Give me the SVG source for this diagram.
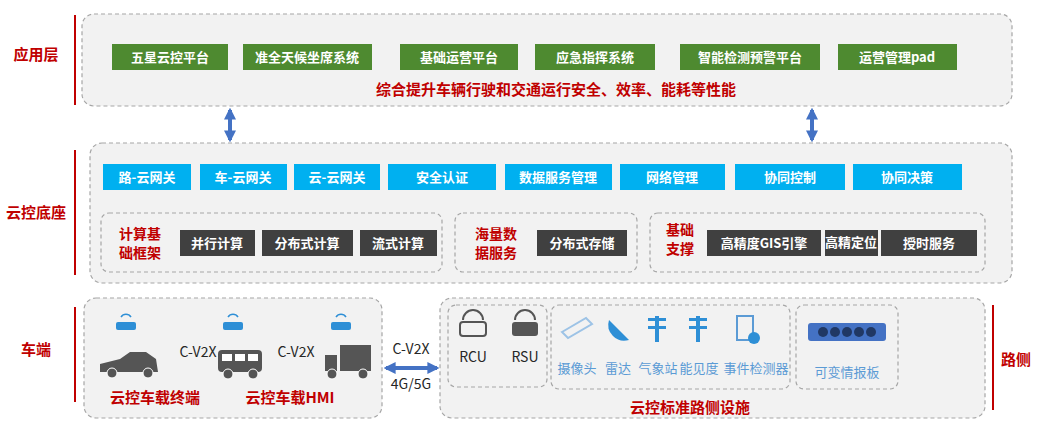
<svg xmlns="http://www.w3.org/2000/svg" width="1039" height="437" viewBox="0 0 1039 437">
<defs>
<style>
text{font-family:"Noto Sans CJK SC","Liberation Sans",sans-serif}
.box{fill:#f2f2f2;stroke:#a6a6a6;stroke-dasharray:4 3;stroke-width:1.2}
.g{fill:#4e8a30}.b{fill:#00b0f0}.d{fill:#404040}
.wt{fill:#fff;font-size:13px;font-weight:bold;text-anchor:middle}
.rt{fill:#c00000;font-weight:bold;text-anchor:middle}
.lt{fill:#5b9bd5;font-size:13px;text-anchor:middle}
.kt{fill:#262626;font-size:14px;text-anchor:middle}
.rl{stroke:#c00000;stroke-width:2}
.ic{fill:#2e8fd6}
.dk{fill:#555}
</style>
<marker id="ah" viewBox="0 0 10 10" refX="9" refY="5" markerWidth="5" markerHeight="5" orient="auto-start-reverse"><path d="M0,0L10,5L0,10z" fill="#1f3864"/></marker>
<marker id="bh" viewBox="0 0 10 10" refX="8" refY="5" markerWidth="3" markerHeight="3" orient="auto-start-reverse"><path d="M0,0L10,5L0,10z" fill="#4472c4"/></marker>
</defs>
<g id="labels">
<text x="36" y="60" class="rt" font-size="15">应用层</text><line x1="75" y1="15" x2="75" y2="105" class="rl"/>
<text x="36" y="218" class="rt" font-size="15">云控底座</text><line x1="75" y1="150" x2="75" y2="275" class="rl"/>
<text x="36" y="355" class="rt" font-size="15">车端</text><line x1="75" y1="307" x2="75" y2="402" class="rl"/>
<text x="1016" y="365" class="rt" font-size="15">路侧</text><line x1="993" y1="305" x2="993" y2="410" class="rl"/>
</g>
<g id="app">
<rect x="82" y="14" width="930" height="92" rx="12" class="box"/>
<rect x="112" y="44" width="116" height="26" class="g"/><text x="170" y="62" class="wt">五星云控平台</text>
<rect x="243" y="44" width="129" height="26" class="g"/><text x="307" y="62" class="wt">准全天候坐席系统</text>
<rect x="400" y="44" width="118" height="26" class="g"/><text x="459" y="62" class="wt">基础运营平台</text>
<rect x="535" y="44" width="120" height="26" class="g"/><text x="595" y="62" class="wt">应急指挥系统</text>
<rect x="680" y="44" width="140" height="26" class="g"/><text x="750" y="62" class="wt">智能检测预警平台</text>
<rect x="838" y="44" width="119" height="26" class="g"/><text x="897" y="62" class="wt">运营管理pad</text>
<text x="556" y="95" class="rt" font-size="15">综合提升车辆行驶和交通运行安全、效率、能耗等性能</text>
</g>
<g id="connectors">
<line x1="230" y1="110" x2="230" y2="140" stroke="#4472c4" stroke-width="4" marker-start="url(#bh)" marker-end="url(#bh)"/>
<line x1="812" y1="110" x2="812" y2="140" stroke="#4472c4" stroke-width="4" marker-start="url(#bh)" marker-end="url(#bh)"/>
<line x1="160" y1="372" x2="216" y2="372" stroke="#1f3864" stroke-width="1.5" stroke-dasharray="4 3" marker-start="url(#ah)" marker-end="url(#ah)"/>
<line x1="264" y1="372" x2="323" y2="372" stroke="#1f3864" stroke-width="1.5" stroke-dasharray="4 3" marker-start="url(#ah)" marker-end="url(#ah)"/>
<line x1="386" y1="368" x2="437" y2="368" stroke="#4472c4" stroke-width="4" marker-start="url(#bh)" marker-end="url(#bh)"/>
<text x="411" y="354" class="kt">C-V2X</text><text x="411" y="389" class="kt" font-size="13">4G/5G</text>
</g>
<g id="base">
<rect x="90" y="143" width="922" height="140" rx="12" class="box"/>
<rect x="103" y="164" width="88" height="26" class="b"/><text x="147" y="182" class="wt">路-云网关</text>
<rect x="200" y="164" width="87" height="26" class="b"/><text x="243" y="182" class="wt">车-云网关</text>
<rect x="294" y="164" width="86" height="26" class="b"/><text x="337" y="182" class="wt">云-云网关</text>
<rect x="388" y="164" width="108" height="26" class="b"/><text x="442" y="182" class="wt">安全认证</text>
<rect x="505" y="164" width="107" height="26" class="b"/><text x="558" y="182" class="wt">数据服务管理</text>
<rect x="620" y="164" width="105" height="26" class="b"/><text x="672" y="182" class="wt">网络管理</text>
<rect x="735" y="164" width="110" height="26" class="b"/><text x="790" y="182" class="wt">协同控制</text>
<rect x="853" y="164" width="109" height="26" class="b"/><text x="907" y="182" class="wt">协同决策</text>
<rect x="101" y="213" width="341" height="59" rx="8" class="box"/>
<text x="140" y="239" class="rt" font-size="14">计算基</text><text x="140" y="258" class="rt" font-size="14">础框架</text>
<rect x="180" y="230" width="75" height="26" class="d"/><text x="217" y="248" class="wt">并行计算</text>
<rect x="262" y="230" width="91" height="26" class="d"/><text x="307" y="248" class="wt">分布式计算</text>
<rect x="360" y="230" width="77" height="26" class="d"/><text x="398" y="248" class="wt">流式计算</text>
<rect x="455" y="213" width="182" height="59" rx="8" class="box"/>
<text x="496" y="239" class="rt" font-size="14">海量数</text><text x="496" y="258" class="rt" font-size="14">据服务</text>
<rect x="537" y="230" width="90" height="26" class="d"/><text x="582" y="248" class="wt">分布式存储</text>
<rect x="650" y="213" width="335" height="59" rx="8" class="box"/>
<text x="680" y="235" class="rt" font-size="14">基础</text><text x="680" y="254" class="rt" font-size="14">支撑</text>
<rect x="707" y="230" width="114" height="26" class="d"/><text x="764" y="248" class="wt">高精度GIS引擎</text>
<rect x="825" y="230" width="53" height="26" class="d"/><text x="851" y="247" class="wt" font-size="12">高精定位</text>
<rect x="881" y="230" width="96" height="26" class="d"/><text x="929" y="248" class="wt">授时服务</text>
</g>
<g id="vehicle">
<rect x="84" y="298" width="298" height="120" rx="12" class="box"/>
<g class="ic"><rect x="116" y="322" width="20" height="8" rx="2"/><rect x="223" y="322" width="20" height="8" rx="2"/><rect x="331" y="322" width="20" height="8" rx="2"/></g>
<g fill="none" stroke="#2e8fd6" stroke-width="1.5"><path d="M121,317a6,6 0 0 1 10,0M228,317a6,6 0 0 1 10,0M336,317a6,6 0 0 1 10,0"/></g>
<path d="M100,372v-8l20,-5 10,-7 16,0 10,7 2,13z" class="dk"/><circle cx="112" cy="373" r="5" class="dk" stroke="#fff"/><circle cx="148" cy="373" r="5" class="dk" stroke="#fff"/>
<rect x="218" y="350" width="44" height="22" rx="4" class="dk"/><g fill="#fff"><rect x="222" y="354" width="10" height="7"/><rect x="235" y="354" width="10" height="7"/><rect x="248" y="354" width="10" height="7"/></g><circle cx="228" cy="374" r="5" class="dk" stroke="#fff"/><circle cx="253" cy="374" r="5" class="dk" stroke="#fff"/>
<rect x="340" y="345" width="31" height="26" class="dk"/><path d="M325,371v-16h12v16z" class="dk"/><circle cx="332" cy="374" r="5" class="dk" stroke="#fff"/><circle cx="363" cy="374" r="5" class="dk" stroke="#fff"/>
<text x="198" y="357" class="kt">C-V2X</text><text x="296" y="357" class="kt">C-V2X</text>
<text x="155" y="403" class="rt" font-size="15">云控车载终端</text><text x="290" y="403" class="rt" font-size="15">云控车载HMI</text>
</g>
<g id="roadside">
<rect x="440" y="298" width="545" height="120" rx="12" class="box"/>
<rect x="448" y="305" width="99" height="82" rx="8" class="box"/>
<rect x="460" y="322" width="26" height="14" rx="3" fill="none" stroke="#555" stroke-width="2"/><path d="M463,320a10,10 0 0 1 20,0" fill="none" stroke="#555" stroke-width="2"/>
<rect x="512" y="322" width="26" height="14" rx="3" class="dk"/><path d="M515,320a10,10 0 0 1 20,0" fill="none" stroke="#555" stroke-width="2"/>
<text x="473" y="362" class="kt">RCU</text><text x="525" y="362" class="kt">RSU</text>
<rect x="551" y="305" width="239" height="84" rx="8" class="box"/>
<path d="M562,332l24,-14 6,6 -24,14z" fill="none" stroke="#9dc3e6" stroke-width="2"/>
<path d="M609,320a16,16 0 0 0 20,20z" class="ic"/>
<g class="ic"><rect x="648" y="318" width="18" height="3"/><rect x="648" y="326" width="18" height="3"/><rect x="655" y="316" width="4" height="26"/><rect x="689" y="318" width="18" height="3"/><rect x="689" y="326" width="18" height="3"/><rect x="696" y="316" width="4" height="26"/></g>
<rect x="737" y="316" width="16" height="24" fill="none" stroke="#5b9bd5" stroke-width="2"/><circle cx="754" cy="338" r="6" class="ic"/>
<text x="577" y="373" class="lt">摄像头</text><text x="618" y="373" class="lt">雷达</text><text x="658" y="373" class="lt">气象站</text><text x="699" y="373" class="lt">能见度</text><text x="756" y="373" class="lt">事件检测器</text>
<rect x="796" y="305" width="102" height="84" rx="8" class="box"/>
<rect x="808" y="323" width="78" height="18" rx="3" fill="#4472c4"/>
<g fill="#203864"><circle cx="823" cy="332" r="5"/><circle cx="835" cy="332" r="5"/><circle cx="847" cy="332" r="5"/><circle cx="859" cy="332" r="5"/><circle cx="871" cy="332" r="5"/></g>
<text x="847" y="377" class="lt">可变情报板</text>
<text x="690" y="413" class="rt" font-size="15">云控标准路侧设施</text>
</g>
</svg>
